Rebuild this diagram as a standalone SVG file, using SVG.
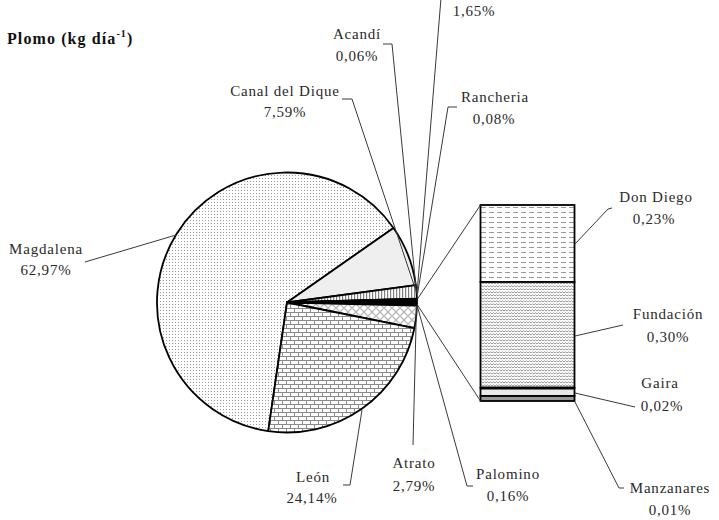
<svg xmlns="http://www.w3.org/2000/svg" width="719" height="520" viewBox="0 0 719 520">
<style>
.lbl{font-family:"Liberation Serif","Times New Roman",serif;font-size:15px;fill:#2a2a2a;letter-spacing:0.8px;text-anchor:middle}
.ttl{font-family:"Liberation Serif","Times New Roman",serif;font-size:16px;font-weight:bold;fill:#111;letter-spacing:1.1px}
.slice{stroke:#000;stroke-width:1.8;stroke-linejoin:round}
.lead{fill:none;stroke:#3a3a3a;stroke-width:1}
.bar{stroke:#000;stroke-width:1.8}
</style>
<defs>
<pattern id="pDots" width="3" height="3" patternUnits="userSpaceOnUse"><rect width="3" height="3" fill="#fff"/><rect x="1" y="1" width="1" height="1" fill="#9a9a9a"/></pattern>
<pattern id="pVert" width="3" height="3" patternUnits="userSpaceOnUse"><rect width="3" height="3" fill="#fff"/><rect x="0" y="0" width="1.2" height="3" fill="#808080"/></pattern>
<pattern id="pWeave" width="8" height="8" patternUnits="userSpaceOnUse"><rect width="8" height="8" fill="#fff"/><path d="M0 4 L4 0 L8 4 L4 8 Z" fill="none" stroke="#b4b4b4" stroke-width="1.2"/></pattern>
<pattern id="pBrick" width="8" height="8" patternUnits="userSpaceOnUse"><rect width="8" height="8" fill="#fff"/><path d="M0 0.5 H8 M0 4.5 H8 M2.5 0.5 V4.5 M6.5 4.5 V8.5" fill="none" stroke="#8a8a8a" stroke-width="1"/></pattern>
<pattern id="pDash" width="8" height="5" patternUnits="userSpaceOnUse"><rect width="8" height="5" fill="#fff"/><path d="M1 2.5 H6" stroke="#9a9a9a" stroke-width="1"/></pattern>
<pattern id="pWave" width="6" height="3" patternUnits="userSpaceOnUse"><rect width="6" height="3" fill="#fff"/><path d="M0 2 L1.5 0.8 L3 2 L4.5 0.8 L6 2" fill="none" stroke="#8a8a8a" stroke-width="0.9"/></pattern>
</defs>

<text class="ttl" x="7" y="44">Plomo (kg día<tspan dy="-7" font-size="10">-1</tspan><tspan dy="7">)</tspan></text>

<g id="pie">
<path id="magdalena" class="slice" fill="url(#pDots)" d="M287,302.5 L268.23,431.14 A130,130 0 1 1 393.49,227.94 Z"/>
<path id="canal" class="slice" fill="#efefef" d="M287,302.5 L393.49,227.94 A130,130 0 0 1 415.83,285.13 Z"/>
<path id="s165" class="slice" fill="url(#pVert)" d="M287,302.5 L415.83,285.13 A130,130 0 0 1 416.94,298.55 Z"/>
<path id="acandi" class="slice" fill="#000" d="M287,302.5 L416.94,298.55 A130,130 0 0 1 416.95,299.04 Z"/>
<path id="rancheria" class="slice" fill="#000" d="M287,302.5 L416.95,299.04 A130,130 0 0 1 416.97,299.7 Z"/>
<path id="otros" class="slice" fill="#000" d="M287,302.5 L416.97,299.7 A130,130 0 0 1 416.99,304.27 Z"/>
<path id="palomino" class="slice" fill="#000" d="M287,302.5 L416.99,304.27 A130,130 0 0 1 416.96,305.58 Z"/>
<path id="atrato" class="slice" fill="url(#pWeave)" d="M287,302.5 L416.96,305.58 A130,130 0 0 1 414.43,328.2 Z"/>
<path id="leon" class="slice" fill="url(#pBrick)" d="M287,302.5 L414.43,328.2 A130,130 0 0 1 268.23,431.14 Z"/>
</g>

<g id="bar">
<rect id="dondiego" x="480.5" y="205" width="94" height="77" fill="url(#pDash)" class="bar"/>
<rect id="fundacion" x="480.5" y="282" width="94" height="106" fill="url(#pWave)" class="bar"/>
<rect id="gaira" x="480.5" y="388" width="94" height="8" fill="#e9e9e9" class="bar"/>
<rect id="manzanares" x="480.5" y="396" width="94" height="5" fill="#9a9a9a" class="bar"/>
<line x1="480.5" y1="388" x2="574.5" y2="388" stroke="#000" stroke-width="3"/>
</g>

<g id="connectors">
<path class="lead" d="M416.97,299.7 L480.5,205"/>
<path class="lead" d="M416.99,304.3 L480.5,401"/>
<path class="lead" d="M85,262 L176,235"/>
<path class="lead" d="M342,99 L352,99 L415,288"/>
<path class="lead" d="M383,44 L392,44 L416.5,293"/>
<path class="lead" d="M441,-2 L417,294"/>
<path class="lead" d="M457,107 L448,107 L417.5,294"/>
<path class="lead" d="M343,485 L350,485 L362,410"/>
<path class="lead" d="M413,445 L416.5,306"/>
<path class="lead" d="M473,486 L467,486 L417,305"/>
<path class="lead" d="M575,244 L608,209 L612,208"/>
<path class="lead" d="M575,336 L623,325"/>
<path class="lead" d="M575,393 L635,407"/>
<path class="lead" d="M575,402 L619,488 L624,488"/>
</g>

<g id="labels">
<g id="l-magdalena"><text class="lbl" x="46" y="254">Magdalena</text><text class="lbl" x="46" y="275">62,97%</text></g>
<g id="l-canal"><text class="lbl" x="285" y="96">Canal del Dique</text><text class="lbl" x="285" y="117">7,59%</text></g>
<g id="l-acandi"><text class="lbl" x="357" y="39">Acandí</text><text class="lbl" x="357" y="61">0,06%</text></g>
<g id="l-165"><text class="lbl" x="474" y="16">1,65%</text></g>
<g id="l-rancheria"><text class="lbl" x="495" y="102">Rancheria</text><text class="lbl" x="494" y="124">0,08%</text></g>
<g id="l-leon"><text class="lbl" x="313" y="482">León</text><text class="lbl" x="312" y="503">24,14%</text></g>
<g id="l-atrato"><text class="lbl" x="414" y="468">Atrato</text><text class="lbl" x="414" y="491">2,79%</text></g>
<g id="l-palomino"><text class="lbl" x="508" y="479">Palomino</text><text class="lbl" x="508" y="501">0,16%</text></g>
<g id="l-dondiego"><text class="lbl" x="656" y="202">Don Diego</text><text class="lbl" x="654" y="224">0,23%</text></g>
<g id="l-fundacion"><text class="lbl" x="668" y="319">Fundación</text><text class="lbl" x="668" y="342">0,30%</text></g>
<g id="l-gaira"><text class="lbl" x="660" y="388">Gaira</text><text class="lbl" x="662" y="411">0,02%</text></g>
<g id="l-manzanares"><text class="lbl" x="670" y="493">Manzanares</text><text class="lbl" x="670" y="515">0,01%</text></g>
</g>
</svg>
